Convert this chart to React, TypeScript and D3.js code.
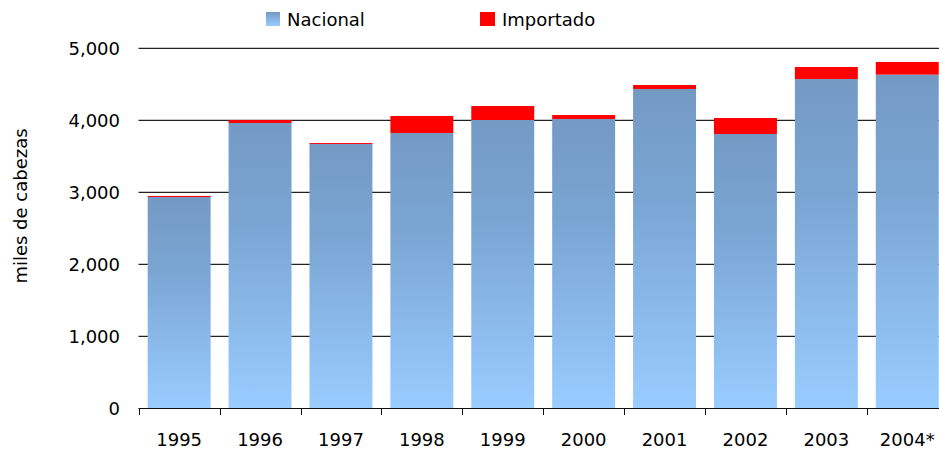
import React from "react";
import * as d3 from "d3";

const years = ["1995", "1996", "1997", "1998", "1999", "2000", "2001", "2002", "2003", "2004*"];
const nacional = [2930, 3958, 3667, 3819, 4000, 4014, 4431, 3806, 4569, 4630];
const importado = [15, 42, 13, 237, 194, 55, 55, 222, 167, 176];
const yTicks = [0, 1000, 2000, 3000, 4000, 5000];

const W = 939;
const H = 450;
const FONT = "'DejaVu Sans', Tahoma, sans-serif";

export default function App() {
  const x = d3
    .scaleBand<string>()
    .domain(years)
    .range([138.7, 138.7 + 80.9 * years.length])
    .paddingInner(0.222)
    .paddingOuter(0.111);
  const y = d3.scaleLinear().domain([0, 5000]).range([408, 48]);
  const fmt = d3.format(",");
  const x0 = 138.5;
  const x1 = 138.7 + 80.9 * years.length;

  return (
    <svg
      width={W}
      height={H}
      style={{ position: "absolute", left: 0, top: 0, background: "#fff" }}
      fontFamily={FONT}
    >
      <defs>
        <linearGradient id="gNac" x1="0" y1="0" x2="0" y2="1">
          <stop offset="0" stopColor="#749ac4" />
          <stop offset="0.35" stopColor="#7aa5d3" />
          <stop offset="1" stopColor="#99ccff" />
        </linearGradient>
        <linearGradient id="gLeg" x1="0" y1="0" x2="0" y2="1">
          <stop offset="0" stopColor="#7499c4" />
          <stop offset="1" stopColor="#99ccff" />
        </linearGradient>
      </defs>

      {/* gridlines */}
      {yTicks.filter((t) => t > 0).map((t) => (
        <g key={"g" + t}>
          <line x1={x0} x2={x1} y1={y(t) - 0.5} y2={y(t) - 0.5} stroke="#c8c8c8" strokeWidth={1} />
          <line x1={x0} x2={x1} y1={y(t) + 0.5} y2={y(t) + 0.5} stroke="#222" strokeWidth={1} />
        </g>
      ))}

      {/* y tick labels */}
      {yTicks.map((t) => (
        <text key={"t" + t} x={120} y={y(t) + 6.5} textAnchor="end" fontSize={18} fill="#000">
          {fmt(t)}
        </text>
      ))}

      {/* bars */}
      {years.map((yr, i) => {
        const bx = x(yr)!;
        const bw = x.bandwidth();
        const n = nacional[i];
        const m = importado[i];
        return (
          <g key={yr}>
            <rect x={bx} y={y(n)} width={bw} height={y(0) - y(n)} fill="url(#gNac)" />
            <rect x={bx} y={y(n + m)} width={bw} height={y(n) - y(n + m)} fill="#ff0000" />
          </g>
        );
      })}

      {/* x axis */}
      <line x1={x0} x2={x1} y1={408.5} y2={408.5} stroke="#111" strokeWidth={1} />
      {years.map((yr, i) => {
        const tx = Math.round(138.7 + 80.9 * i) + 0.5;
        return <line key={"xt" + yr} x1={tx} x2={tx} y1={408} y2={415} stroke="#111" strokeWidth={1} />;
      })}
      {years.map((yr) => (
        <text
          key={"xl" + yr}
          x={x(yr)! + x.bandwidth() / 2}
          y={446}
          textAnchor="middle"
          fontSize={18}
          fill="#000"
        >
          {yr}
        </text>
      ))}

      {/* y axis title */}
      <text transform={`translate(27,206) rotate(-90)`} textAnchor="middle" fontSize={18} fill="#000">
        miles de cabezas
      </text>

      {/* legend */}
      <rect x={266} y={12} width={14} height={14} fill="url(#gLeg)" />
      <text x={287} y={26} fontSize={18} fill="#000">Nacional</text>
      <rect x={480} y={12} width={15} height={14} fill="#ff0000" />
      <text x={502} y={26} fontSize={18} fill="#000">Importado</text>
    </svg>
  );
}
